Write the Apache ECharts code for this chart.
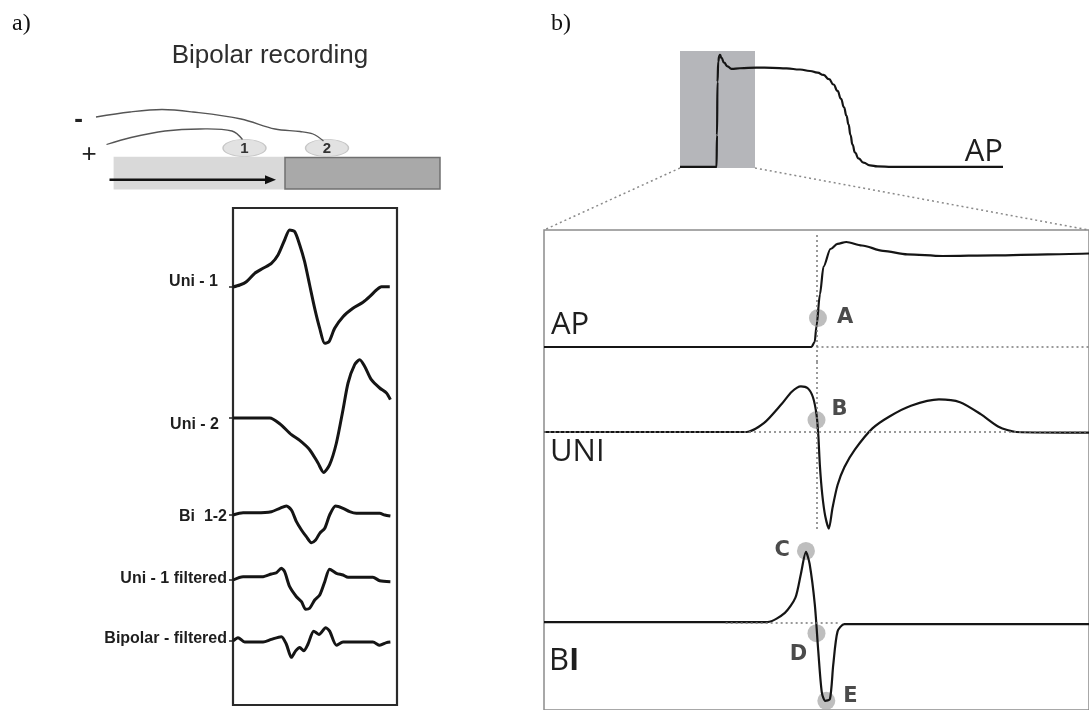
<!DOCTYPE html>
<html>
<head>
<meta charset="utf-8">
<script src="https://cdn.jsdelivr.net/npm/echarts@6/dist/echarts.min.js"></script>
<style>
  html, body { margin: 0; padding: 0; background: #fff; }
  #chart { width: 1089px; height: 710px; }
</style>
</head>
<body>
<div id="chart"></div>
<script>
// ---------- Panel a: electrograms (time in ms, amplitude in mV) ----------
const traceNames = ['Uni - 1', 'Uni - 2', 'Bi  1-2', 'Uni - 1 filtered', 'Bipolar - filtered'];

const uni1 = [[0,0],[4.3,0.2],[8.5,0.53],[13.8,1.37],[19.1,1.87],[24.4,2.37],[28.6,3.2],[32.8,4.7],
  [36,5.7],[39.2,5.53],[42.4,4.2],[45.5,2.53],[48.7,0.2],[51.9,-2.13],[55.1,-4.13],[58.3,-5.63],
  [61,-5.47],[64.6,-4.13],[69.9,-2.97],[76.2,-2.13],[82.6,-1.53],[86.8,-0.97],[91.1,-0.3],[94.3,0.03],[99.6,0.03]];

const uni2 = [[0,0],[23.3,0],[29.7,-0.57],[37.1,-1.67],[42.4,-2.24],[48.7,-3.17],[54,-4.5],[57.6,-5.44],
  [61.4,-4.67],[65.7,-2.5],[69.9,0.83],[73.1,3.5],[77.3,5.33],[80.5,5.83],[83.7,5.16],[87.9,3.83],
  [93.2,3.0],[97.5,2.5],[100,1.83]];

const bi12 = [[0,0],[6.4,0.23],[14.9,0.23],[24.4,0.33],[29.7,0.67],[33.9,0.9],[37.1,0.5],[40.3,-0.67],
  [43.5,-1.5],[46.6,-2.17],[49.8,-2.77],[52.5,-2.5],[55.1,-1.83],[58.3,-1.33],[61.4,0],[65.2,0.9],
  [69.9,0.67],[74.1,0.33],[78.4,0.17],[86.8,0.17],[93.2,0.17],[96.4,0],[100,-0.1]];

const uni1Filtered = [[0,0],[6.4,0.33],[19.1,0.33],[24.4,0.6],[27.6,0.73],[30.7,1.17],[32.8,0.83],[36,-0.67],
  [40.3,-1.67],[43.5,-2.17],[46.2,-2.93],[48.7,-2.83],[51.9,-2.0],[55.1,-1.5],[58.3,-0.17],[61.4,1.07],
  [65.7,0.67],[69.9,0.5],[73.1,0.27],[78.4,0.27],[88.9,0.27],[93.2,-0.07],[100,-0.17]];

const bipolarFiltered = [[0,0],[3.2,0.34],[7.4,-0.1],[19.1,-0.1],[24.4,0.17],[30.7,0.44],[33.9,-0.33],
  [37.1,-1.66],[39.8,-1.0],[42.4,-0.66],[44.9,-1.0],[47.6,-0.33],[51.3,1.0],[54.6,0.67],[58.9,1.34],
  [61.4,1.0],[65.7,-0.43],[69.9,-0.1],[78.4,-0.1],[88.9,-0.1],[93.2,-0.43],[97.5,-0.16],[100,-0.1]];

const panelATraces = [uni1, uni2, bi12, uni1Filtered, bipolarFiltered];

// ---------- Panel b: action potential and its electrograms ----------
// full action potential (ms, mV)
const apFull = [[-75,-85],[-2,-85],[-1,-55],[0,-5],[1.5,14],[3.5,19.5],[5,20.3],[8,17.5],[13,13],
  [20,9.5],[28,7.2],[45,7.8],[78,8.4],[110,8.2],[138,7.6],[165,6.6],[185,5.2],[200,3.6],[212,1.5],
  [223,-2.5],[232,-7.5],[240,-13.5],[247,-21],[253,-29],[258,-37],[262,-45],[266,-55],[270,-64],
  [275,-71.5],[282,-77],[292,-81],[305,-83.5],[320,-84.5],[350,-85],[571,-85]];
// highlighted window around the upstroke (ms)
const zoomWindow = [-75, 75];

// zoomed action potential (ms, mV)
const apZoom = [[-75,-85],[-1.4,-85],[-0.5,-80],[0,-64],[0.94,-32.5],[1.93,-4.5],[3.85,13],[5.78,18.2],
  [8.2,20],[12.5,16.5],[18.3,11.2],[25,7.7],[34.7,6],[49.1,6.7],[63.6,7.7],[75,8.5]];
// unipolar electrogram (ms, mV)
const uniZoom = [[-75,0],[-19.3,0],[-14.5,0.88],[-9.6,2.8],[-6.8,4.03],[-4.3,4.56],[-2.4,4.38],[-1.0,3.5],
  [0,1.76],[0.5,-0.34],[0.94,-3.4],[1.6,-6.3],[2.4,-8.4],[3.4,-9.67],[4.4,-7.6],[5.8,-5.3],[7.7,-3.5],
  [10.6,-1.74],[15.4,0.36],[20.2,1.58],[26,2.63],[33.7,3.26],[39.5,2.98],[45.3,1.76],[50.1,0.53],
  [55,0],[75,-0.07]];
// bipolar electrogram (ms, mV)
const biZoom = [[-75,0.1],[-13.5,0.1],[-8.7,1.05],[-5.8,2.63],[-4.3,5.08],[-2.9,7.35],[-1.9,6.13],
  [-0.47,1.93],[0.5,-2.97],[1.46,-7.17],[2.4,-8.05],[3.7,-7.87],[4.6,-4.37],[5.8,-0.87],[7.7,-0.11],
  [20.2,-0.11],[75,-0.11]];

// annotated instants: [label, ms, mV]
const apMarks = [['A', 0.4, -56]];
const uniMarks = [['B', 0, 1.2]];
const biMarks = [['C', -2.9, 7.45], ['D', 0, -1.05], ['E', 2.7, -8.05]];

// ---------- layout ----------
const A_FRAME = { left: 233, top: 208, width: 164, height: 497 };
const A_T_MAX = 104.2;
const A_ROW_BASE = [287, 418, 515, 580, 642];
const A_LABEL_DY = [-5, 7, 2, -1, -2];
const A_LABEL_MARGIN = [15, 14, 6, 6, 6];
const A_HALF = 7, A_PX_PER_UNIT = 10;

const B_TOP = { left: 680, top: 51, width: 323, height: 117 };
const B_FRAME = { left: 544, top: 230, width: 570, height: 520 };
const B_ZOOM_LEFT = 544, B_ZOOM_WIDTH = 545;

const TRACE_COLOR = '#151515';
const DOT = { color: '#7a7a7a', width: 1.5, type: [2, 3] };

const grids = [], xAxes = [], yAxes = [], series = [];

function hiddenX(grid, min, max) {
  xAxes.push({ type: 'value', gridIndex: grid, min, max, show: false });
  return xAxes.length - 1;
}
function hiddenY(grid, min, max) {
  yAxes.push({ type: 'value', gridIndex: grid, min, max, show: false });
  return yAxes.length - 1;
}

// panel a frame
grids.push(Object.assign({ show: true, borderColor: '#2a2a2a', borderWidth: 2.2, backgroundColor: 'transparent' }, A_FRAME));
hiddenX(0, 0, 1); hiddenY(0, 0, 1);

// panel a traces
panelATraces.forEach((trace, i) => {
  const g = grids.length;
  grids.push({ left: A_FRAME.left, width: A_FRAME.width, top: A_ROW_BASE[i] - A_HALF * A_PX_PER_UNIT,
    height: 2 * A_HALF * A_PX_PER_UNIT, show: false });
  const xi = hiddenX(g, 0, A_T_MAX);
  const labelValue = -A_LABEL_DY[i] / A_PX_PER_UNIT;
  yAxes.push({
    type: 'value', gridIndex: g, min: -A_HALF, max: A_HALF,
    axisLine: { show: false }, splitLine: { show: false },
    axisTick: { show: true, customValues: [0], length: 4, lineStyle: { color: '#222', width: 1.5 } },
    axisLabel: {
      show: true, customValues: [labelValue], margin: A_LABEL_MARGIN[i],
      formatter: () => traceNames[i],
      fontFamily: 'Liberation Sans, Arial, sans-serif', fontWeight: 'bold', fontSize: 16, color: '#1e1e1e'
    }
  });
  series.push({
    type: 'line', name: traceNames[i], xAxisIndex: xi, yAxisIndex: yAxes.length - 1, data: trace,
    showSymbol: false, smooth: 0.25, lineStyle: { color: TRACE_COLOR, width: 3 }, silent: true, z: 3
  });
});

// panel b: full AP
const gTop = grids.length;
grids.push(Object.assign({ show: false }, B_TOP));
const xTop = hiddenX(gTop, -75, 571), yTop = hiddenY(gTop, -86, 24);
series.push({
  type: 'line', xAxisIndex: xTop, yAxisIndex: yTop, data: apFull, showSymbol: false,
  smooth: 0.5, smoothMonotone: 'x', lineStyle: { color: TRACE_COLOR, width: 2.2 }, silent: true, z: 3,
  markArea: { silent: true, itemStyle: { color: '#b5b6ba' }, data: [[{ xAxis: zoomWindow[0] }, { xAxis: zoomWindow[1] }]] }
});

// panel b: zoom frame (runs off the right and bottom edges)
const gFrame = grids.length;
grids.push(Object.assign({ show: true, borderColor: '#8c8c8c', borderWidth: 1.5, backgroundColor: 'transparent' }, B_FRAME));
hiddenX(gFrame, 0, 1); hiddenY(gFrame, 0, 1);

function zoomGrid(top, height, vmin, vmax) {
  const g = grids.length;
  grids.push({ left: B_ZOOM_LEFT, width: B_ZOOM_WIDTH, top, height, show: false });
  return [hiddenX(g, zoomWindow[0], zoomWindow[1]), hiddenY(g, vmin, vmax)];
}
const markLineBase = { silent: true, symbol: 'none', label: { show: false }, lineStyle: DOT, animation: false };
const markLabel = { fontFamily: 'DejaVu Sans, sans-serif', fontWeight: 'bold', fontSize: 21, color: '#1e1e1e' };
const dotStyle = { color: 'rgba(165,165,165,0.9)' };

// zoomed AP
const [xAp, yAp] = zoomGrid(230, 132, -100, 32);
series.push({
  type: 'line', xAxisIndex: xAp, yAxisIndex: yAp, data: apZoom, showSymbol: false, smooth: 0.3, smoothMonotone: 'x',
  lineStyle: { color: TRACE_COLOR, width: 2.2 }, silent: true, z: 3,
  markLine: Object.assign({}, markLineBase, { data: [
    [{ coord: [0, 27] }, { coord: [0, -100] }],
    [{ coord: [0, -85] }, { coord: [zoomWindow[1], -85] }]
  ] })
});
series.push({
  type: 'scatter', xAxisIndex: xAp, yAxisIndex: yAp, symbolSize: 18, itemStyle: dotStyle, z: 2, silent: true,
  data: apMarks.map(m => ({ name: m[0], value: [m[1], m[2]] })),
  label: Object.assign({ show: true, formatter: '{b}', position: 'right', distance: 10 }, markLabel)
});

// unipolar
const [xUni, yUni] = zoomGrid(362, 180, -11, 7);
series.push({
  type: 'line', xAxisIndex: xUni, yAxisIndex: yUni, data: uniZoom, showSymbol: false, smooth: 0.25,
  lineStyle: { color: TRACE_COLOR, width: 2.2 }, silent: true, z: 3,
  markLine: Object.assign({}, markLineBase, { data: [
    [{ coord: [0, 7] }, { coord: [0, -9.7] }],
    [{ coord: [zoomWindow[0], 0] }, { coord: [zoomWindow[1], 0] }]
  ] })
});
series.push({
  type: 'scatter', xAxisIndex: xUni, yAxisIndex: yUni, symbolSize: 18, itemStyle: dotStyle, z: 2, silent: true,
  data: uniMarks.map(m => ({ name: m[0], value: [m[1], m[2]] })),
  label: Object.assign({ show: true, formatter: '{b}', position: 'right', distance: 6, offset: [0, -10] }, markLabel)
});

// bipolar
const [xBi, yBi] = zoomGrid(536, 180, -9, 9);
series.push({
  type: 'line', xAxisIndex: xBi, yAxisIndex: yBi, data: biZoom, showSymbol: false, smooth: 0.25,
  lineStyle: { color: TRACE_COLOR, width: 2.2 }, silent: true, z: 3,
  markLine: Object.assign({}, markLineBase, { data: [
    [{ coord: [-25, 0] }, { coord: [6.5, 0] }]
  ] })
});
const biLabelPos = {
  C: { position: 'left', distance: 7 },
  D: { position: 'bottom', distance: 2, offset: [-18, 0] },
  E: { position: 'right', distance: 8, offset: [0, -4] }
};
series.push({
  type: 'scatter', xAxisIndex: xBi, yAxisIndex: yBi, symbolSize: 18, itemStyle: dotStyle, z: 2, silent: true,
  data: biMarks.map(m => ({ name: m[0], value: [m[1], m[2]],
    label: Object.assign({ show: true, formatter: '{b}' }, biLabelPos[m[0]], markLabel) }))
});

const chart = echarts.init(document.getElementById('chart'), null, { renderer: 'canvas' });
chart.setOption({
  animation: false,
  backgroundColor: '#ffffff',
  grid: grids, xAxis: xAxes, yAxis: yAxes, series
});

// ---------- annotations and schematic ----------
const serif = 'Liberation Serif, DejaVu Serif, serif';
const sans = 'Liberation Sans, Arial, sans-serif';
const light = 'Open Sans, DejaVu Sans, sans-serif';

const winBL = chart.convertToPixel({ xAxisIndex: xTop, yAxisIndex: yTop }, [zoomWindow[0], -86]);
const winBR = chart.convertToPixel({ xAxisIndex: xTop, yAxisIndex: yTop }, [zoomWindow[1], -86]);

const graphic = [
  { type: 'text', left: 12, top: 12, style: { text: 'a)', font: '24px ' + serif, fill: '#111' } },
  { type: 'text', left: 551, top: 12, style: { text: 'b)', font: '24px ' + serif, fill: '#111' } },
  { type: 'text', x: 270, y: 56, style: { text: 'Bipolar recording', font: '26px ' + sans, fill: '#2e2e2e',
      align: 'center', verticalAlign: 'middle' } },

  // tissue strip
  { type: 'rect', shape: { x: 113.6, y: 156.7, width: 171.4, height: 32.7 }, style: { fill: '#d9d9d9' } },
  { type: 'rect', shape: { x: 285, y: 157.5, width: 155, height: 31.5 }, style: { fill: '#a9a9a9', stroke: '#707070', lineWidth: 1.5 } },
  { type: 'line', shape: { x1: 109.5, y1: 179.8, x2: 268, y2: 179.8 }, style: { stroke: '#111', lineWidth: 2.6 } },
  { type: 'polygon', shape: { points: [[265, 175.3], [276, 179.8], [265, 184.3]] }, style: { fill: '#111' } },

  // electrodes
  { type: 'circle', x: 244.5, y: 148, scaleX: 2.5, shape: { cx: 0, cy: 0, r: 8.6 }, style: { fill: '#e2e2e2', stroke: '#c6c6c6', lineWidth: 0.6 } },
  { type: 'circle', x: 327, y: 148, scaleX: 2.5, shape: { cx: 0, cy: 0, r: 8.6 }, style: { fill: '#e2e2e2', stroke: '#c6c6c6', lineWidth: 0.6 } },
  { type: 'text', x: 244.5, y: 149, style: { text: '1', font: 'bold 15px ' + sans, fill: '#333', align: 'center', verticalAlign: 'middle' } },
  { type: 'text', x: 327, y: 149, style: { text: '2', font: 'bold 15px ' + sans, fill: '#333', align: 'center', verticalAlign: 'middle' } },

  // lead wires
  { type: 'polyline', shape: { points: [[96, 117], [130, 112], [162, 109.5], [193, 112], [241, 119], [275, 129], [300, 131.5], [313, 134], [323.5, 141]], smooth: 0.35 },
    style: { stroke: '#555', lineWidth: 1.3, fill: null } },
  { type: 'polyline', shape: { points: [[106.5, 144.5], [131, 137.5], [165, 131], [200, 129], [232, 131], [242.5, 139.5]], smooth: 0.35 },
    style: { stroke: '#555', lineWidth: 1.3, fill: null } },
  { type: 'text', x: 78.5, y: 120, style: { text: '-', font: 'bold 26px ' + sans, fill: '#222', align: 'center', verticalAlign: 'middle' } },
  { type: 'text', x: 89, y: 155, style: { text: '+', font: '26px ' + sans, fill: '#222', align: 'center', verticalAlign: 'middle' } },

  // panel b labels
  { type: 'text', x: 1003, y: 152, style: { text: 'AP', font: '31px ' + light, fill: '#1e1e1e', align: 'right', verticalAlign: 'middle' } },
  { type: 'text', x: 551, y: 325, style: { text: 'AP', font: '31px ' + light, fill: '#1e1e1e', verticalAlign: 'middle' } },
  { type: 'text', x: 550, y: 452, style: { text: 'UNI', font: '31px ' + light, fill: '#1e1e1e', verticalAlign: 'middle' } },
  { type: 'text', x: 549, y: 661, style: { text: '{n|B}{b|I}', verticalAlign: 'middle',
      rich: { n: { font: '31px ' + light, fill: '#1e1e1e' }, b: { font: 'bold 31px ' + light, fill: '#1e1e1e' } } } },

  // zoom connectors
  { type: 'line', shape: { x1: winBL[0], y1: winBL[1], x2: B_FRAME.left, y2: B_FRAME.top },
    style: { stroke: '#8a8a8a', lineWidth: 1.5, lineDash: [2, 3] } },
  { type: 'line', shape: { x1: winBR[0], y1: winBR[1], x2: 1089, y2: B_FRAME.top },
    style: { stroke: '#8a8a8a', lineWidth: 1.5, lineDash: [2, 3] } }
];
chart.setOption({ graphic });
</script>
</body>
</html>
